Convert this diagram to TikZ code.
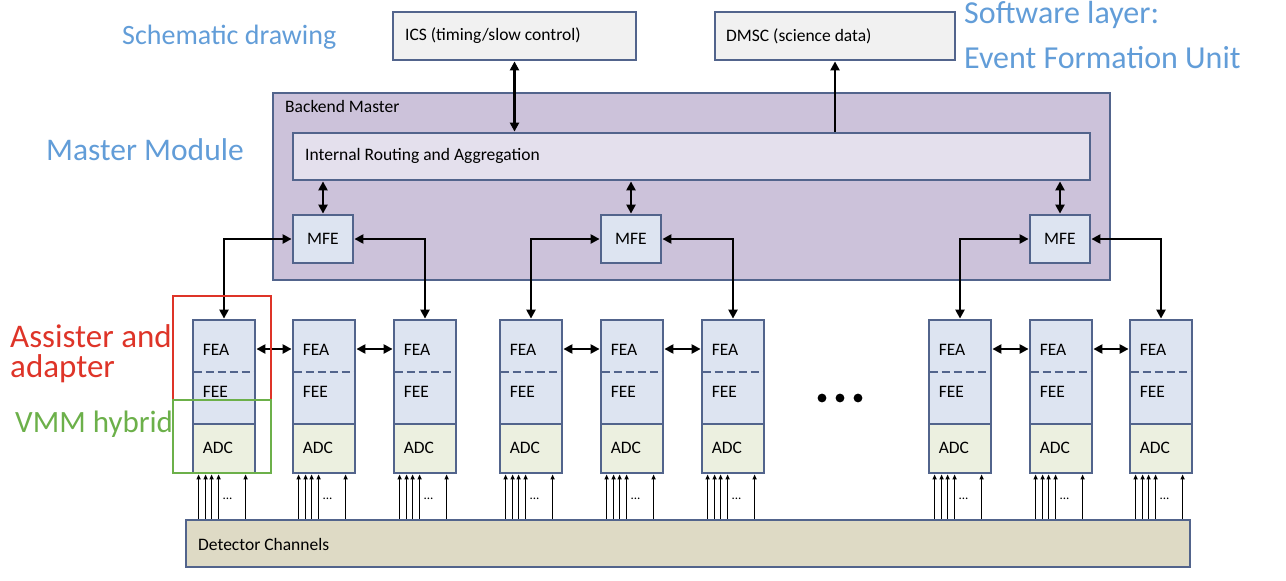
\documentclass[tikz,border=0pt]{standalone}
\usepackage{fontspec}
\setmainfont{Carlito}
\usetikzlibrary{arrows.meta,calc}
\definecolor{bord}{RGB}{82,100,140}
\definecolor{backfill}{RGB}{204,194,218}
\definecolor{routefill}{RGB}{228,224,237}
\definecolor{blockfill}{RGB}{221,228,241}
\definecolor{adcfill}{RGB}{236,240,224}
\definecolor{topfill}{RGB}{241,241,241}
\definecolor{detfill}{RGB}{222,218,197}
\definecolor{bluetxt}{RGB}{98,157,216}
\definecolor{redtxt}{RGB}{222,52,40}
\definecolor{greentxt}{RGB}{108,176,74}
\begin{document}
\begin{tikzpicture}[x=1pt,y=-1pt,
  box/.style={draw=bord,line width=2.8pt,rectangle,inner sep=0pt},
  lab/.style={font=\fontsize{17.5}{20}\selectfont,anchor=west,inner sep=0pt},
  conn/.style={line width=2.8pt,{Triangle[length=9pt,width=9pt]}-{Triangle[length=9pt,width=9pt]}},
  connto/.style={line width=2.8pt,-{Triangle[length=9pt,width=9pt]}},
  thinarr/.style={line width=1.2pt,-{Triangle[length=5pt,width=4pt]}},
  big/.style={inner sep=0pt,anchor=west}]
\useasboundingbox (0,0) rectangle (1286,581);
% top boxes
\node[box,fill=topfill,minimum width=243pt,minimum height=48pt] (ics) at (514.5,36) {};
\node[lab] at (405,36) {ICS (timing/slow control)};
\node[box,fill=topfill,minimum width=240pt,minimum height=48pt] (dmsc) at (835,36) {};
\node[lab] at (726,36) {DMSC (science data)};
% backend
\node[box,fill=backfill,minimum width=837pt,minimum height=187pt] (back) at (691.5,186.5) {};
\node[lab] at (285,106) {Backend Master};
\node[box,fill=routefill,minimum width=797pt,minimum height=47pt] (route) at (691.5,156.5) {};
\node[lab] at (305,156) {Internal Routing and Aggregation};
\foreach \n/\x in {1/323,2/631,3/1060}{
  \node[box,fill=blockfill,minimum width=60pt,minimum height=48pt,font=\fontsize{17.5}{20}\selectfont] (mfe\n) at (\x,239) {MFE};
}
% units
\foreach \i/\x in {1/224,2/324,3/425,4/531,5/632,6/733,7/960,8/1061,9/1161}{
  \node[box,fill=blockfill,minimum width=62pt,minimum height=153pt] (u\i) at (\x,396.5) {};
  \node[box,fill=adcfill,minimum width=62pt,minimum height=49pt] (adc\i) at (\x,448.5) {};
  \draw[bord,line width=2.8pt,dash pattern=on 8pt off 4pt] ([xshift=2pt]u\i.west |- 0,372) -- ([xshift=-2pt]u\i.east |- 0,372);
  \node[lab] at ([xshift=11pt]u\i.west |- 0,350) {FEA};
  \node[lab] at ([xshift=11pt]u\i.west |- 0,392) {FEE};
  \node[lab] at ([xshift=11pt]u\i.west |- 0,448) {ADC};
}
% detector
\node[box,fill=detfill,minimum width=1004pt,minimum height=47pt] (det) at (688,543.5) {};
\node[lab] at (198,544) {Detector Channels};
\foreach \i in {1,...,9}{
  \foreach \o in {7,14,20,27,54}{
    \draw[thinarr] ([xshift=\o pt]u\i.south west |- det.north) -- ([xshift=\o pt]u\i.south west);
  }
  \node[inner sep=0pt,font=\fontsize{13}{13}\selectfont] at ([xshift=36pt,yshift=-24pt]u\i.south west) {...};
}
% connectors
\draw[conn] (ics.south) -- (route.north -| ics.south);
\draw[connto] (route.north -| dmsc.south) -- (dmsc.south);
\foreach \n in {1,2,3}{ \draw[conn] (route.south -| mfe\n.north) -- (mfe\n.north); }
\draw[conn] (mfe1.west) -| (u1.north);
\draw[conn] (mfe1.east) -| (u3.north);
\draw[conn] (mfe2.west) -| (u4.north);
\draw[conn] (mfe2.east) -| (u6.north);
\draw[conn] (mfe3.west) -| (u7.north);
\draw[conn] (mfe3.east) -| (u9.north);
\foreach \a/\b in {1/2,2/3,4/5,5/6,7/8,8/9}{
  \draw[conn] (u\a.east |- 0,349) -- (u\b.west |- 0,349);
}
% dots
\foreach \x in {822,840,858} \fill (\x,398) circle (4.4pt);
% red / green boxes
\draw[redtxt,line width=2.8pt] (173,296) rectangle (271,400);
\draw[greentxt,line width=2.8pt] (173,400) rectangle (271,473);
% annotations
\node[big,text=bluetxt,font=\fontsize{28}{32}\selectfont] at (122,37) {Schematic drawing};
\node[big,text=bluetxt,font=\fontsize{31.5}{36}\selectfont] at (46,150) {Master Module};
\node[big,text=bluetxt,font=\fontsize{32}{36}\selectfont] at (964,15) {Software layer:};
\node[big,text=bluetxt,font=\fontsize{32}{36}\selectfont] at (964,58) {Event Formation Unit};
\node[big,text=redtxt,font=\fontsize{33}{38}\selectfont] at (10,336) {Assister and};
\node[big,text=redtxt,font=\fontsize{33}{38}\selectfont] at (10,369) {adapter};
\node[big,text=greentxt,font=\fontsize{31}{36}\selectfont] at (15,424) {VMM hybrid};
\end{tikzpicture}
\end{document}
